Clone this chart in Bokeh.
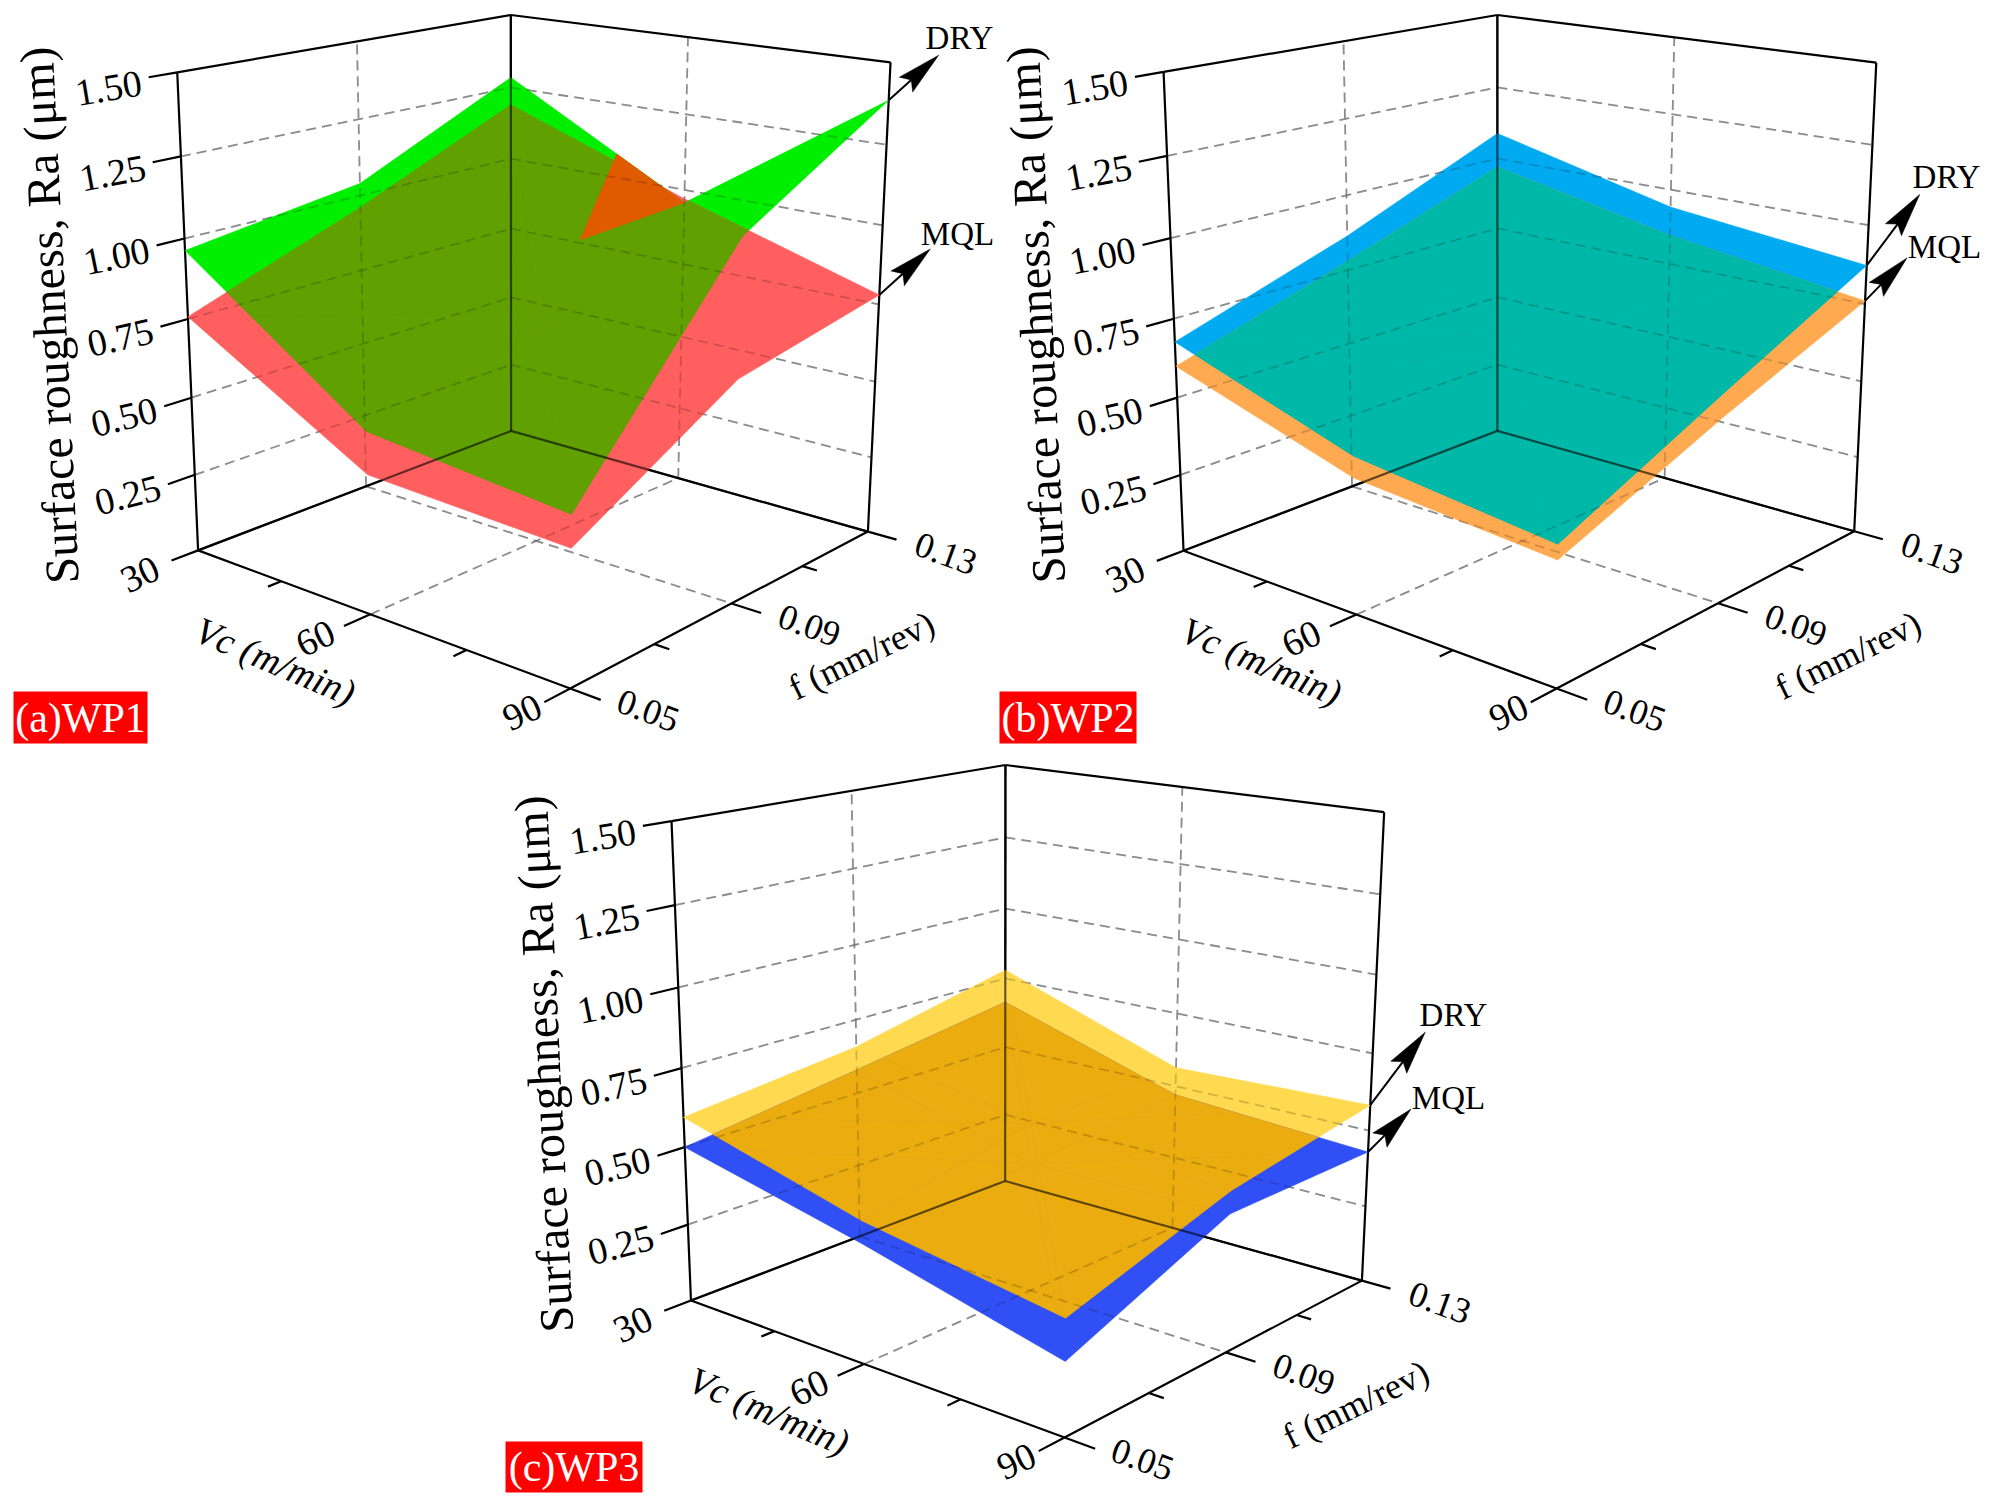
import numpy as np
from bokeh.plotting import figure
from bokeh.core.properties import value
from bokeh.embed import file_html
from bokeh.resources import INLINE

# ---------- data: Ra (um), rows Vc = 30, 60, 90; columns f = 0.05, 0.09, 0.13 ----------
vc_ticks = [30, 60, 90]
f_ticks = [0.05, 0.09, 0.13]
ra_ticks = [0.25, 0.50, 0.75, 1.00, 1.25, 1.50]

wp1_dry = [[0.963, 1.04, 1.285], [0.56, 0.68, 0.957], [0.50, 1.108, 1.386]]
wp1_mql = [[0.757, 0.96, 1.189], [0.43, 0.75, 0.97], [0.404, 0.69, 0.78]]
wp1_wedge_vc = [42.5]
wp1_wedge_f = [0.13]
wp1_wedge_ra = [0.76]
wp2_dry = [[0.677, 0.865, 1.089], [0.486, 0.68, 0.942], [0.415, 0.648, 0.873]]
wp2_mql = [[0.60, 0.78, 0.97], [0.42, 0.60, 0.846], [0.37, 0.575, 0.76]]
wp3_dry = [[0.595, 0.659, 0.78], [0.44, 0.55, 0.564], [0.344, 0.50, 0.583]]
wp3_mql = [[0.50, 0.58, 0.664], [0.37, 0.42, 0.47], [0.22, 0.43, 0.43]]

FONT = value("Liberation Serif")
W, H = 1987, 1495
p = figure(width=W, height=H, x_range=(0, W), y_range=(H, 0),
           output_backend="svg", toolbar_location=None, min_border=0,
           outline_line_color=None, background_fill_color="white")
p.axis.visible = False
p.grid.visible = False


def make_camera(a):
    """fit a projective camera (u, v, w) -> page position through the box corners"""
    cube = [(0, 0, 0), (1, 0, 0), (1, 1, 0), (0, 1, 0), (0, 0, 1), (0, 1, 1), (1, 1, 1)]
    M, b = [], []
    for (u, v, w), (x, y) in zip(cube, a):
        M.append([1, u, v, w, 0, 0, 0, 0, -x * u, -x * v, -x * w]); b.append(x)
        M.append([0, 0, 0, 0, 1, u, v, w, -y * u, -y * v, -y * w]); b.append(y)
    c = np.linalg.lstsq(np.array(M, float), np.array(b, float), rcond=None)[0]

    def cam(vc, f, ra):
        u, v, w = (vc - 30) / 60.0, (f - 0.05) / 0.08, ra / 1.5
        d = 1 + c[8] * u + c[9] * v + c[10] * w
        return ((c[0] + c[1] * u + c[2] * v + c[3] * w) / d,
                (c[4] + c[5] * u + c[6] * v + c[7] * w) / d)
    return cam


def clip(subject, tri):
    """Sutherland-Hodgman: subject polygon clipped by a triangle"""
    t = list(tri)
    area = sum(t[i][0] * t[(i + 1) % 3][1] - t[(i + 1) % 3][0] * t[i][1] for i in range(3))
    if area < 0:
        t = t[::-1]
    out = list(subject)
    for i in range(3):
        a, b = t[i], t[(i + 1) % 3]
        if not out:
            break
        inp, out = out, []
        side = lambda q: (b[0] - a[0]) * (q[1] - a[1]) - (b[1] - a[1]) * (q[0] - a[0])
        for j in range(len(inp)):
            s, e = inp[j], inp[(j + 1) % len(inp)]
            ss, se = side(s), side(e)
            if (ss >= 0) != (se >= 0):
                k = ss / (ss - se)
                out.append((s[0] + k * (e[0] - s[0]), s[1] + k * (e[1] - s[1])))
            if se >= 0:
                out.append(e)
    return out


def surface(cam, ra):
    g = [[cam(vc_ticks[i], f_ticks[j], ra[i][j]) for j in range(3)] for i in range(3)]
    ring = [g[0][0], g[1][0], g[2][0], g[2][1], g[2][2], g[1][2], g[0][2], g[0][1]]
    tris = [(g[1][1], ring[i], ring[(i + 1) % 8]) for i in range(8)]
    return ring, tris


def panel(P):
    cam = make_camera(P["anchors"])
    vlo, vmi, vhi = vc_ticks
    flo, fmi, fhi = f_ticks

    # dashed grid
    gx, gy = [], []
    def add(a, b):
        gx.append([a[0], b[0]]); gy.append([a[1], b[1]])
    for r in ra_ticks[:-1]:
        add(cam(vlo, flo, r), cam(vlo, fhi, r))
        add(cam(vlo, fhi, r), cam(vhi, fhi, r))
    add(cam(vlo, fmi, 0), cam(vlo, fmi, 1.5))
    add(cam(vmi, fhi, 0), cam(vmi, fhi, 1.5))
    add(cam(vmi, flo, 0), cam(vmi, fhi, 0))
    add(cam(vlo, fmi, 0), cam(vhi, fmi, 0))
    p.multi_line(gx, gy, line_color="#ababab", line_width=1.8, line_dash="10 6")

    # box
    bx, by = [], []
    def box(a, b):
        bx.append([a[0], b[0]]); by.append([a[1], b[1]])
    A, B, C, D = cam(vlo, flo, 0), cam(vhi, flo, 0), cam(vhi, fhi, 0), cam(vlo, fhi, 0)
    At, Ct, Dt = cam(vlo, flo, 1.5), cam(vhi, fhi, 1.5), cam(vlo, fhi, 1.5)
    inner = [(A, D), (D, C), (D, Dt)]
    for s in [(A, B), (B, C), (A, At), (C, Ct), (At, Dt), (Dt, Ct)] + inner:
        box(*s)
    # ticks
    TV = 0.0058  # f units, major tick reach outside the Vc edge
    TU = 4.2     # Vc units, major tick reach outside the f edge
    for r in ra_ticks:
        box(cam(vlo, flo, r), cam(vlo, flo - TV, r))
    for vc in vc_ticks:
        box(cam(vc, flo, 0), cam(vc, flo - TV, 0))
    for vc in (45, 75):
        box(cam(vc, flo, 0), cam(vc, flo - TV / 2, 0))
    for f in f_ticks:
        box(cam(vhi, f, 0), cam(vhi + TU, f, 0))
    for f in (0.07, 0.11):
        box(cam(vhi, f, 0), cam(vhi + TU / 2, f, 0))
    p.multi_line(bx, by, line_color="black", line_width=2.2)

    # surfaces
    dry_ring, dry_t = surface(cam, P["dry"])
    mql_ring, mql_t = surface(cam, P["mql"])
    for ring, col in ((dry_ring, P["c_dry"]), (mql_ring, P["c_mql"])):
        p.patch([q[0] for q in ring], [q[1] for q in ring], fill_color=col,
                line_color=col, line_width=0.5)
    ox, oy = [], []
    for t1 in dry_t:
        for t2 in mql_t:
            poly = clip(list(t1), t2)
            if len(poly) >= 3:
                ox.append([q[0] for q in poly]); oy.append([q[1] for q in poly])
    p.patches(ox, oy, fill_color=P["c_both"], line_color=P["c_both"], line_width=0.8)

    if "wedge" in P:
        wx, wy = zip(*[cam(vc, f, r) for vc, f, r in zip(*P["wedge"])])
        g = P["dry"]
        e1 = cam(vlo, fhi, g[0][2]); e2 = cam(vmi, fhi, g[1][2])
        q1 = (e1[0] + 0.61 * (e2[0] - e1[0]), e1[1] + 0.61 * (e2[1] - e1[1]))
        p.patch([q1[0], e2[0], wx[0]], [q1[1], e2[1], wy[0]], fill_color="#E05A00",
                line_color="#E05A00", line_width=0.5)

    # what shows through the surfaces
    p.multi_line(gx, gy, line_color="black", line_alpha=0.18, line_width=1.8, line_dash="10 6")
    p.multi_line([[a[0], b[0]] for a, b in inner], [[a[1], b[1]] for a, b in inner],
                 line_color="black", line_alpha=0.6, line_width=2.2)

    # arrows
    for ra, off in ((P["dry"][2][2], P["tip_dry"]), (P["mql"][2][2], P["tip_mql"])):
        s = cam(vhi, fhi, ra)
        tip = (s[0] + off[0], s[1] + off[1])
        d = np.array(off, float); d /= np.hypot(*d)
        n = np.array([-d[1], d[0]])
        base = np.array(tip) - 44 * d
        nt = np.array(tip) - 37 * d
        p.line([s[0], nt[0]], [s[1], nt[1]], line_color="black", line_width=2)
        p.patch([tip[0], base[0] + 10 * n[0], nt[0], base[0] - 10 * n[0]],
                [tip[1], base[1] + 10 * n[1], nt[1], base[1] - 10 * n[1]],
                fill_color="black", line_color="black", line_width=0.5)

    def txt(x, y, s, size, ang=0.0, color="black", style="normal"):
        p.text([x], [y], text=[s], angle=[np.deg2rad(ang)], text_font=FONT,
               text_font_size=value(f"{size}px"), text_color=color, text_align="center",
               text_baseline="middle", text_font_style=style)

    for lab, xy in zip(("DRY", "MQL"), P["labels"]):
        txt(xy[0], xy[1], lab, 33)

    # Ra tick labels
    for r in ra_ticks:
        e = cam(vlo, flo - TV, r)
        s = cam(vlo, flo, r)
        ang = np.degrees(np.arctan2(e[1] - s[1], s[0] - e[0])) * 0.55 + 4
        txt(e[0] - 40, e[1] + 11, f"{r:.2f}", 38, ang)
    for vc, dx in zip(vc_ticks, (-58, -55, -48)):
        q = cam(vc, flo, 0)
        txt(q[0] + dx, q[1] + 24, str(vc), 38, 25)
    for f in f_ticks:
        q = cam(vhi, f, 0)
        txt(q[0] + 78, q[1] + 22, f"{f:.2f}", 36, -20)
    q = cam(vmi, flo, 0)
    txt(q[0] - 95, q[1] + 47, "Vc (m/min)", 38, -23, style="italic")
    q = cam(vhi, fmi, 0)
    txt(q[0] + 130, q[1] + 52, "f (mm/rev)", 36, 26)
    txt(At[0] - 128, At[1] + 243, "Surface roughness, Ra (μm)", 48, 92.8)

    # panel tag
    x0, y0, x1, y1 = P["tag_box"]
    p.quad(left=[x0], right=[x1], top=[y0], bottom=[y1], fill_color="#FF0000", line_color=None)
    txt((x0 + x1) / 2, (y0 + y1) / 2, P["tag"], 42, 0, color="white")


panels = [
    dict(anchors=[(197.8, 550), (569.5, 688), (867.6, 531), (510.4, 430.4), (176.7, 71.7), (510.4, 14.5), (890, 62)],
         dry=wp1_dry, mql=wp1_mql, c_dry="#00EE00", c_mql="#FF5F5F", c_both="#60A000",
         wedge=(wp1_wedge_vc, wp1_wedge_f, wp1_wedge_ra),
         tip_dry=(50, -45), tip_mql=(51, -46), labels=[(959, 37), (957, 233)],
         tag="(a)WP1", tag_box=(13, 691, 147, 743)),
    dict(anchors=[(1182.8, 550), (1556.5, 688), (1853.5, 531), (1497, 430.4), (1163, 71.7), (1497, 14.5), (1875.7, 62)],
         dry=wp2_dry, mql=wp2_mql, c_dry="#00AAF0", c_mql="#FFAA50", c_both="#00B8A8",
         tip_dry=(53, -71), tip_mql=(42, -43), labels=[(1946, 176), (1944, 246)],
         tag="(b)WP2", tag_box=(999, 691, 1136, 743)),
    dict(anchors=[(690, 1299.6), (1064.6, 1437), (1361, 1280.4), (1005, 1180.6), (671, 821), (1005, 764.4), (1383.6, 811.4)],
         dry=wp3_dry, mql=wp3_mql, c_dry="#FFD950", c_mql="#3050F5", c_both="#EBAC10",
         tip_dry=(55, -73), tip_mql=(43, -43), labels=[(1453, 1014), (1448, 1097)],
         tag="(c)WP3", tag_box=(505, 1441, 642, 1492)),
]
for P in panels:
    panel(P)

open("out.html", "w").write(file_html(p, INLINE))
